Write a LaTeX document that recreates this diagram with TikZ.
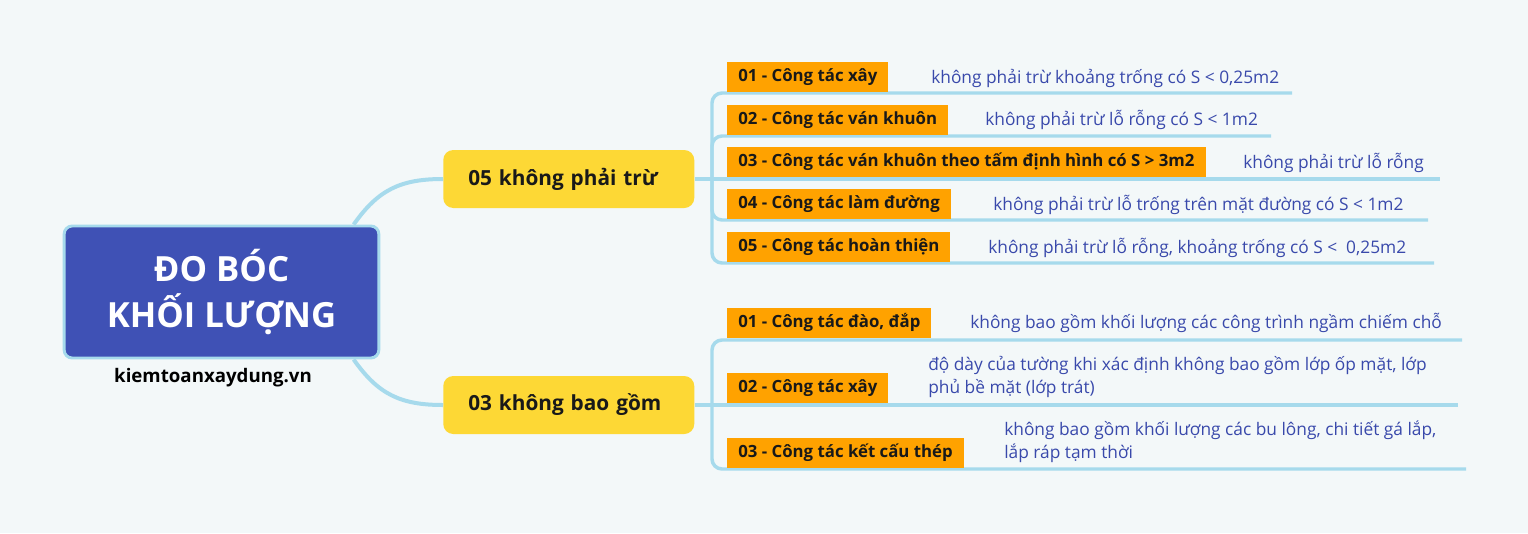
\documentclass[tikz,border=0pt]{standalone}
\usepackage{fontspec}
\setmainfont{Open Sans}
\definecolor{bgcol}{HTML}{F3F8F9}
\definecolor{linkblue}{HTML}{A6DAEC}
\definecolor{rootfill}{HTML}{3F51B5}
\definecolor{topicfill}{HTML}{FDD835}
\definecolor{lblfill}{HTML}{FFA200}
\definecolor{desccol}{HTML}{3949AB}

\begin{document}
\begin{tikzpicture}[x=0.75pt,y=-0.75pt]
        \tikzstyle{conn}=[draw=linkblue,line width=2.6pt]
        \tikzstyle{branch}=[conn,rounded corners=7.5pt]
        \tikzstyle{rootbox}=[fill=rootfill,draw=linkblue,line width=2.2pt,rounded corners=6pt,minimum width=236pt,minimum height=99pt,align=center,text=white,font=\fontsize{26}{35}\selectfont\bfseries]
        \tikzstyle{topic}=[fill=topicfill,rounded corners=7.5pt,anchor=west,minimum height=43.5pt,inner xsep=18.75pt,text width=150.75pt,align=left,font=\fontsize{15.6}{18}\selectfont\bfseries,text=black!90]
        \tikzstyle{lbl}=[fill=lblfill,anchor=south west,minimum height=22.5pt,inner xsep=8.25pt,inner ysep=0pt,text height=10pt,text depth=2.5pt,font=\fontsize{12.6}{14}\selectfont\bfseries,text=black!90]
        \tikzstyle{desc}=[text=desccol,inner sep=0pt,align=left,font=\fontsize{13}{17.25}\selectfont]
        \fill[bgcol] (0,0) rectangle (1528,533);

        \node[rootbox] (root) at (221.5,292) {ĐO BÓC\\KHỐI LƯỢNG};
        \node[font=\fontsize{14}{16}\selectfont\bfseries] (site) at (213,378) {kiemtoanxaydung.vn};
        \node[topic] (tru) at (443,179) {05 không phải trừ};
        \node[topic] (gom) at (443,405) {03 không bao gồm};

        % root to topics
        \draw[conn,line width=3pt] ([xshift=-20pt]root.north east) .. controls (378,190) and (400,179) .. (tru.west);
        \draw[conn,line width=3pt] ([xshift=-20pt]root.south east) .. controls (378,394) and (400,405) .. (gom.west);

        \coordinate (jt) at (712,179);
        \coordinate (jg) at (712,405);
        \draw[conn] (tru.east) -- (jt);
        \draw[conn] (gom.east) -- (jg);

        % underline ends
        \coordinate (t1) at (1292,93);
        \coordinate (t2) at (1271,136);
        \coordinate (t3) at (1440,179);
        \coordinate (t4) at (1428,220);
        \coordinate (t5) at (1434,263);
        \coordinate (g1) at (1462,340);
        \coordinate (g2) at (1458,405);
        \coordinate (g3) at (1466,469);
        \foreach \e in {t1,t2,t4,t5} \draw[branch] (jt) |- (\e);
        \draw[conn] (jt) -- (t3);
        \foreach \e in {g1,g3} \draw[branch] (jg) |- (\e);
        \draw[conn] (jg) -- (g2);

        % 05 khong phai tru
        \node[lbl] (l1) at (727,92) {01 - Công tác xây};
        \node[lbl] (l2) at (727,135) {02 - Công tác ván khuôn};
        \node[lbl] (l3) at (727,177) {03 - Công tác ván khuôn theo tấm định hình có S > 3m2};
        \node[lbl] (l4) at (727,219) {04 - Công tác làm đường};
        \node[lbl] (l5) at (727,262) {05 - Công tác hoàn thiện};
        \node[desc,anchor=base west] (d1) at (931,83) {không phải trừ khoảng trống có S < 0,25m2};
        \node[desc,anchor=base west] (d2) at (985,125) {không phải trừ lỗ rỗng có S < 1m2};
        \node[desc,anchor=base west] (d3) at (1243,168) {không phải trừ lỗ rỗng};
        \node[desc,anchor=base west] (d4) at (993,210) {không phải trừ lỗ trống trên mặt đường có S < 1m2};
        \node[desc,anchor=base west] (d5) at (988,253) {không phải trừ lỗ rỗng, khoảng trống có S <~ 0,25m2};

        % 03 khong bao gom
        \node[lbl] (k1) at (727,338) {01 - Công tác đào, đắp};
        \node[lbl] (k2) at (727,403) {02 - Công tác xây};
        \node[lbl] (k3) at (727,468) {03 - Công tác kết cấu thép};
        \node[desc,anchor=base west] (e1) at (970,328) {không bao gồm khối lượng các công trình ngầm chiếm chỗ};
        \node[desc,anchor=west] (e2) at (928,377) {độ dày của tường khi xác định không bao gồm lớp ốp mặt, lớp\\phủ bề mặt (lớp trát)};
        \node[desc,anchor=west] (e3) at (1004,442) {không bao gồm khối lượng các bu lông, chi tiết gá lắp,\\lắp ráp tạm thời};
\end{tikzpicture}
\end{document}
